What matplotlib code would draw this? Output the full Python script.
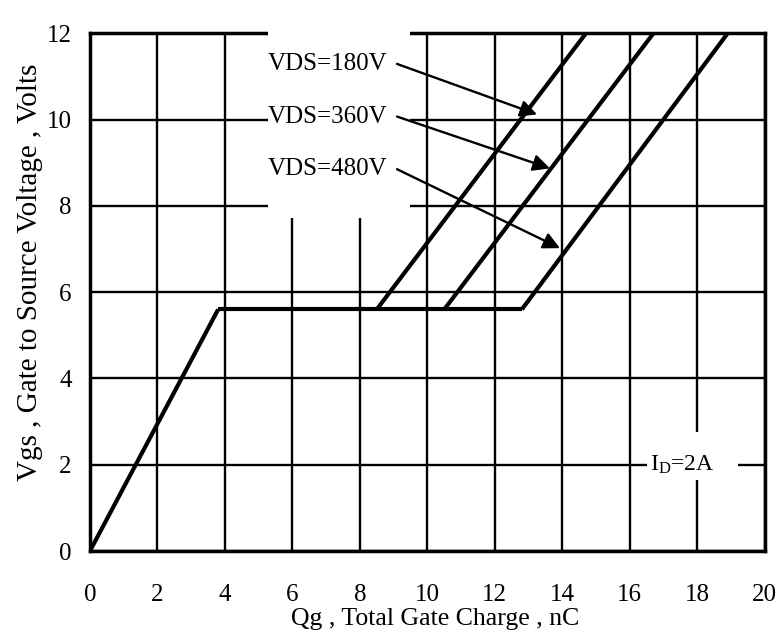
import matplotlib
matplotlib.use("Agg")
import matplotlib.pyplot as plt
from matplotlib.patches import Rectangle

plt.rcParams["font.family"] = ["Liberation Serif", "DejaVu Serif"]
plt.rcParams["mathtext.fontset"] = "custom"
plt.rcParams["mathtext.rm"] = "Liberation Serif"
plt.rcParams["mathtext.it"] = "Liberation Serif"

# gate charge curve
turn_on_q = [0.0, 3.8]
turn_on_v = [0.0, 5.6]
plateau_v = 5.6
vds_labels = ["VDS=180V", "VDS=360V", "VDS=480V"]
plateau_end_q = [8.5, 10.5, 12.8]
top_q = [14.7, 16.7, 18.9]
top_v = 12.0

# label / arrow anchors (data units)
label_x = 5.27
label_y = [11.29, 10.07, 8.85]
arrow_start_x = 9.1
arrow_tip = [(13.25, 10.12), (13.63, 8.87), (13.93, 7.02)]

fig = plt.figure(figsize=(7.82, 6.40), dpi=100)
ax = fig.add_axes([0.115, 0.139, 0.863, 0.809])

ax.set_xlim(0, 20)
ax.set_ylim(0, 12)
ax.set_xticks(range(0, 21, 2))
ax.set_yticks(range(0, 13, 2))
ax.tick_params(length=0, labelsize=18)
ax.tick_params(axis="x", pad=24)
ax.tick_params(axis="y", pad=13)
ax.grid(True, color="black", linewidth=1.7)
ax.set_axisbelow(True)
for sp in ax.spines.values():
    sp.set_linewidth(2.5)

# knock-outs behind the labels
ax.add_patch(Rectangle((5.27, 7.71), 4.21, 4.7, facecolor="white",
                       edgecolor="none", zorder=3, clip_on=False))
ax.add_patch(Rectangle((16.5, 1.64), 2.7, 1.11, facecolor="white",
                       edgecolor="none", zorder=3, clip_on=False))

lw = 3.0
ax.plot(turn_on_q, turn_on_v, color="black", lw=lw, zorder=4,
        solid_capstyle="butt")
ax.plot([turn_on_q[-1], max(plateau_end_q)], [plateau_v, plateau_v],
        color="black", lw=lw, zorder=4, solid_capstyle="butt")
for q0, q1 in zip(plateau_end_q, top_q):
    ax.plot([q0, q1], [plateau_v, top_v], color="black", lw=lw, zorder=4,
            solid_capstyle="butt")

for txt, y, tip in zip(vds_labels, label_y, arrow_tip):
    ax.text(label_x, y, txt, fontsize=18, ha="left", va="center", zorder=6)
    ax.annotate("", xy=tip, xytext=(arrow_start_x, y),
                arrowprops=dict(arrowstyle="-|>", color="black", lw=1.7,
                                mutation_scale=25, shrinkA=0, shrinkB=0),
                zorder=6)

ax.text(16.6, 2.0, r"I$_\mathrm{D}$=2A", fontsize=17, ha="left", va="center",
        zorder=6)

ax.set_xlabel("Qg , Total Gate Charge , nC", fontsize=18.5)
ax.set_ylabel("Vgs , Gate to Source Voltage , Volts", fontsize=21)
ax.xaxis.set_label_coords(0.511, -0.110)
ax.yaxis.set_label_coords(-0.069, 0.539)

fig.savefig("out.png", dpi=100)
